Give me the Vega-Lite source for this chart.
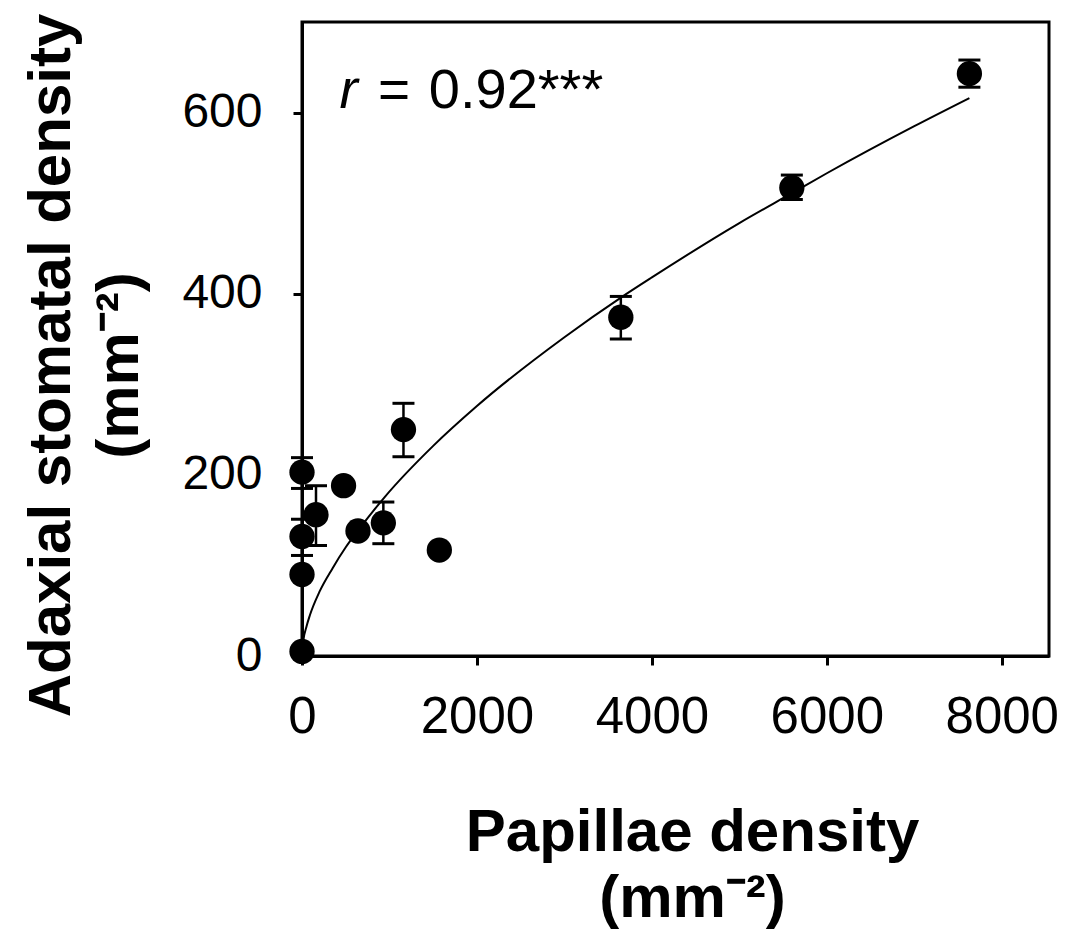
{
  "$schema": "https://vega.github.io/schema/vega-lite/v6.json",
  "width": 747,
  "height": 634,
  "autosize": {"type": "none"},
  "padding": {"left": 302, "top": 22, "right": 16, "bottom": 276},
  "background": "white",
  "config": {
    "view": {"stroke": "black", "strokeWidth": 3},
    "axis": {
      "grid": false,
      "domainColor": "black",
      "domainWidth": 3,
      "tickColor": "black",
      "tickWidth": 3,
      "tickSize": 9,
      "labelFlush": false,
      "labelFont": "Liberation Sans",
      "labelFontSize": 48,
      "labelColor": "black",
      "titleFont": "Liberation Sans",
      "titleFontSize": 60,
      "titleFontWeight": "bold",
      "titleColor": "black"
    }
  },
  "datasets": {
    "obs": [
      {"papillae": 7630, "stomata": 643, "lo": 628, "hi": 658},
      {"papillae": 5600, "stomata": 517, "lo": 504, "hi": 531},
      {"papillae": 3645, "stomata": 374, "lo": 350, "hi": 397},
      {"papillae": 1160, "stomata": 250, "lo": 220, "hi": 279},
      {"papillae": 930, "stomata": 147, "lo": 124, "hi": 170},
      {"papillae": 1570, "stomata": 117},
      {"papillae": 640, "stomata": 138},
      {"papillae": 475, "stomata": 188},
      {"papillae": 160, "stomata": 156, "lo": 122, "hi": 188},
      {"papillae": 0, "stomata": 203, "lo": 185, "hi": 219},
      {"papillae": 0, "stomata": 132, "lo": 111, "hi": 151},
      {"papillae": 0, "stomata": 90},
      {"papillae": 0, "stomata": 5}
    ],
    "fit": [
      {"papillae": 0, "stomata": 0},
      {"papillae": 5, "stomata": 8},
      {"papillae": 15, "stomata": 17},
      {"papillae": 50, "stomata": 32},
      {"papillae": 90, "stomata": 45},
      {"papillae": 200, "stomata": 71},
      {"papillae": 350, "stomata": 97},
      {"papillae": 500, "stomata": 120},
      {"papillae": 660, "stomata": 141},
      {"papillae": 950, "stomata": 176},
      {"papillae": 1500, "stomata": 232},
      {"papillae": 2000, "stomata": 276},
      {"papillae": 3000, "stomata": 352},
      {"papillae": 3650, "stomata": 396},
      {"papillae": 4000, "stomata": 418},
      {"papillae": 5000, "stomata": 478},
      {"papillae": 5600, "stomata": 511},
      {"papillae": 6000, "stomata": 533},
      {"papillae": 7000, "stomata": 585},
      {"papillae": 7630, "stomata": 616}
    ]
  },
  "layer": [
    {
      "data": {"name": "fit"},
      "mark": {"type": "line", "color": "black", "strokeWidth": 2, "interpolate": "monotone"},
      "encoding": {
        "x": {
          "field": "papillae", "type": "quantitative",
          "scale": {"domain": [0, 8540], "nice": false, "zero": false},
          "axis": {
            "values": [0, 2000, 4000, 6000, 8000],
            "format": "d",
            "labelFontSize": 51,
            "labelPadding": 27,
            "title": ["Papillae density", "(mm⁻²)"],
            "titleX": 390, "titleY": 194,
            "titleAlign": "center", "titleBaseline": "alphabetic", "titleAngle": 0,
            "titleLineHeight": 66
          }
        },
        "y": {
          "field": "stomata", "type": "quantitative",
          "scale": {"domain": [0, 700], "nice": false, "zero": false},
          "axis": {
            "values": [0, 200, 400, 600],
            "format": "d",
            "labelPadding": 31,
            "title": ["Adaxial stomatal density", "(mm⁻²)"],
            "titleX": -233, "titleY": 343,
            "titleAlign": "center", "titleBaseline": "alphabetic", "titleAngle": -90,
            "titleLineHeight": 68
          }
        }
      }
    },
    {
      "data": {"name": "obs"},
      "mark": {"type": "rule", "color": "black", "strokeWidth": 2.5},
      "encoding": {
        "x": {"field": "papillae", "type": "quantitative"},
        "y": {"field": "lo", "type": "quantitative"},
        "y2": {"field": "hi"}
      }
    },
    {
      "data": {"name": "obs"},
      "mark": {"type": "tick", "color": "black", "orient": "horizontal", "size": 22, "thickness": 3, "opacity": 1},
      "encoding": {
        "x": {"field": "papillae", "type": "quantitative"},
        "y": {"field": "lo", "type": "quantitative"}
      }
    },
    {
      "data": {"name": "obs"},
      "mark": {"type": "tick", "color": "black", "orient": "horizontal", "size": 22, "thickness": 3, "opacity": 1},
      "encoding": {
        "x": {"field": "papillae", "type": "quantitative"},
        "y": {"field": "hi", "type": "quantitative"}
      }
    },
    {
      "data": {"name": "obs"},
      "mark": {"type": "circle", "color": "black", "opacity": 1, "size": 640},
      "encoding": {
        "x": {"field": "papillae", "type": "quantitative"},
        "y": {"field": "stomata", "type": "quantitative"}
      }
    },
    {
      "data": {"values": [{"label": "r"}]},
      "mark": {"type": "text", "font": "Liberation Sans", "fontSize": 55, "fontStyle": "italic", "align": "left", "baseline": "alphabetic", "color": "black"},
      "encoding": {"x": {"datum": 430}, "y": {"datum": 605}, "text": {"field": "label"}}
    },
    {
      "data": {"values": [{"label": "="}]},
      "mark": {"type": "text", "font": "Liberation Sans", "fontSize": 55, "align": "left", "baseline": "alphabetic", "color": "black"},
      "encoding": {"x": {"datum": 870}, "y": {"datum": 605}, "text": {"field": "label"}}
    },
    {
      "data": {"values": [{"label": "0.92***"}]},
      "mark": {"type": "text", "font": "Liberation Sans", "fontSize": 56, "align": "left", "baseline": "alphabetic", "color": "black"},
      "encoding": {"x": {"datum": 1450}, "y": {"datum": 605}, "text": {"field": "label"}}
    }
  ]
}
